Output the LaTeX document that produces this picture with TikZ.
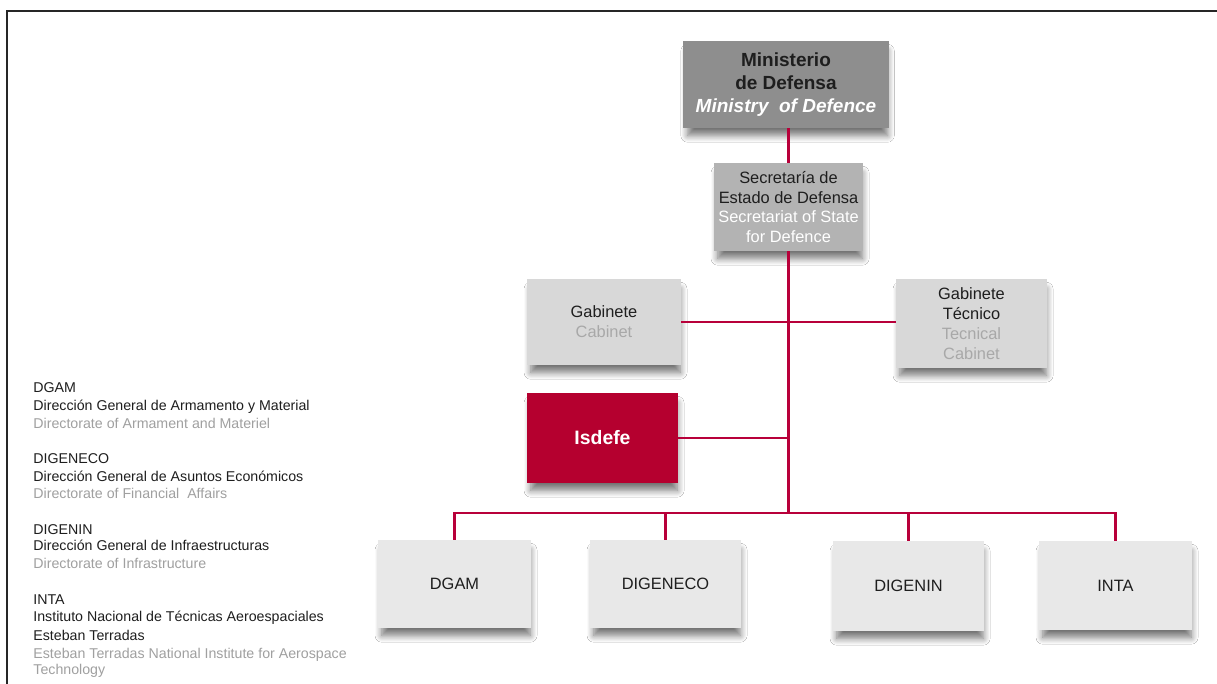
\documentclass[tikz,border=0pt]{standalone}
\usepackage{fontspec}
\setmainfont{Liberation Sans}
\usetikzlibrary{shadows.blur}
\definecolor{crim}{HTML}{B8003A}
\definecolor{isdc}{HTML}{B5002F}
\definecolor{minc}{HTML}{8E8E8E}
\definecolor{secc}{HTML}{B3B3B3}
\definecolor{gabc}{HTML}{D8D8D8}
\definecolor{dirc}{HTML}{E8E8E8}
\definecolor{engc}{HTML}{A8A8A8}
\definecolor{legc}{HTML}{A0A0A0}
\definecolor{txt}{HTML}{1E1E1E}
\begin{document}
\begin{tikzpicture}[x=0.5pt,y=-0.5pt,
  box/.style={rectangle, inner sep=0pt, align=center, text=txt,
    blur shadow={shadow xshift=0.8pt, shadow yshift=-4.5pt, shadow scale=0.97, shadow blur radius=3.5pt, shadow blur steps=8, shadow opacity=55}},
  boxfont/.style={font=\fontsize{8.2}{9.9}\selectfont},
  conn/.style={draw=crim, line width=1.25pt},
  leg/.style={anchor=base west, inner sep=0pt, font=\fontsize{7.1}{8.5}\selectfont, text=txt},
  legen/.style={leg, text=legc}]
\useasboundingbox (0,0) rectangle (1217,684);
\fill[white] (0,0) rectangle (1217,684);
\draw[line width=1.1pt, black!85] (7,684) -- (7,11) -- (1217,11);

% boxes
\node[box, fill=minc, minimum width=103pt, minimum height=43.5pt,
  font=\fontsize{9.5}{11.5}\selectfont] (min) at (786,84.5)
  {\textbf{Ministerio}\\\textbf{de Defensa}\\\textcolor{white}{\bfseries\itshape Ministry~ of Defence}};
\node[box, boxfont, fill=secc, minimum width=74.5pt, minimum height=44pt] (sec) at (788.5,207)
  {Secretaría de\\Estado de Defensa\\\textcolor{white}{Secretariat of State}\\\textcolor{white}{for Defence}};
\node[box, boxfont, fill=gabc, minimum width=77pt, minimum height=43pt] (gab) at (604,322)
  {Gabinete\\\textcolor{engc}{Cabinet}};
\node[box, boxfont, fill=gabc, minimum width=75.5pt, minimum height=44.5pt] (gt) at (971.5,323.5)
  {Gabinete\\Técnico\\\textcolor{engc}{Tecnical}\\\textcolor{engc}{Cabinet}};
\node[box, fill=isdc, text=white, minimum width=75.5pt, minimum height=45pt,
  font=\fontsize{9.7}{11}\selectfont\bfseries] (isd) at (602.5,438) {Isdefe};
\node[box, boxfont, fill=dirc, minimum width=76.5pt, minimum height=44pt] (dgam) at (454.5,584) {DGAM};
\node[box, boxfont, fill=dirc, minimum width=75.5pt, minimum height=44pt] (digeneco) at (665.5,584) {DIGENECO};
\node[box, boxfont, fill=dirc, minimum width=75.5pt, minimum height=45pt] (digenin) at (908.5,586) {DIGENIN};
\node[box, boxfont, fill=dirc, minimum width=76.5pt, minimum height=44.5pt] (inta) at (1115.5,585.5) {INTA};

% connectors
\coordinate (bus) at (788,513);
\draw[conn] (sec.north) -- (sec.north |- min.south);
\draw[conn] (sec.south) -- (sec.south |- bus);
\draw[conn] (gab.east) -- (gab.east -| gt.west);
\draw[conn] (isd.east) -- (isd.east -| sec.south);
\draw[conn] (dgam.north) |- (bus) -| (inta.north);
\draw[conn] (digeneco.north) -- (digeneco.north |- bus);
\draw[conn] (digenin.north) -- (digenin.north |- bus);

% legend
\node[leg] (l1) at (33,393) {DGAM};
\node[leg] (l2) at (33,411) {Dirección General de Armamento y Material};
\node[legen] (l3) at (33,429) {Directorate of Armament and Materiel};
\node[leg] (l4) at (33,464) {DIGENECO};
\node[leg] (l5) at (33,481) {Dirección General de Asuntos Económicos};
\node[legen] (l6) at (33,499) {Directorate of Financial~ Affairs};
\node[leg] (l7) at (33,534) {DIGENIN};
\node[leg] (l8) at (33,551) {Dirección General de Infraestructuras};
\node[legen] (l9) at (33,568) {Directorate of Infrastructure};
\node[leg] (l10) at (33,604) {INTA};
\node[leg] (l11) at (33,621) {Instituto Nacional de Técnicas Aeroespaciales};
\node[leg] (l12) at (33,640.5) {Esteban Terradas};
\node[legen] (l13) at (33,658.5) {Esteban Terradas National Institute for Aerospace};
\node[legen] (l14) at (33,674.5) {Technology};
\end{tikzpicture}
\end{document}
